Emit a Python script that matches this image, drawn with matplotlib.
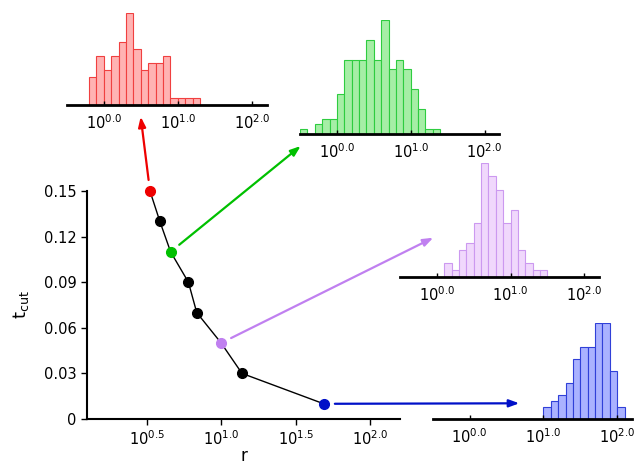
import numpy as np
import matplotlib
matplotlib.use("Agg")
import matplotlib.pyplot as plt

# ---- data ----
r_vals = [3.33, 3.88, 4.58, 6.03, 6.86, 10.0, 13.8, 48.8]
t_cut = [0.15, 0.13, 0.11, 0.09, 0.07, 0.05, 0.03, 0.01]
point_colors = ["#ee0000", "black", "#00c000", "black", "black", "#c080f0", "black", "#0010c8"]

yticks = [0, 0.03, 0.06, 0.09, 0.12, 0.15]
ytick_labels = ["0", "0.03", "0.06", "0.09", "0.12", "0.15"]
xticks_log = [0.5, 1.0, 1.5, 2.0]
xtick_labels = [r"$10^{0.5}$", r"$10^{1.0}$", r"$10^{1.5}$", r"$10^{2.0}$"]

hist_ticks_log = [0.0, 1.0, 2.0]
hist_tick_labels = [r"$10^{0.0}$", r"$10^{1.0}$", r"$10^{2.0}$"]

red_start, red_counts = -0.2, [4, 7, 5, 7, 9, 13, 8, 5, 6, 6, 7, 1, 1, 1, 1]
green_start, green_counts = -0.5, [1, 0, 2, 3, 3, 8, 15, 15, 15, 19, 15, 23, 13, 15, 13, 9, 5, 1, 1]
purple_start, purple_counts = 0.1, [2, 1, 4, 5, 8, 17, 15, 13, 8, 10, 4, 2, 1, 1]
blue_start, blue_counts = 1.0, [2, 3, 4, 6, 10, 12, 12, 16, 16, 8, 2]
bin_width_log = 0.1

W, H = 638, 465
fig = plt.figure(figsize=(W / 100, H / 100), dpi=100)

def px(l, t, r, b):
    return [l / W, 1 - b / H, (r - l) / W, (b - t) / H]

# ---- main axes ----
ax = fig.add_axes(px(87, 191, 400, 419))
ax.plot(r_vals, t_cut, color="black", lw=1, zorder=2)
for x, y, c in zip(r_vals, t_cut, point_colors):
    ax.plot([x], [y], "o", color=c, ms=7, zorder=3, clip_on=False)
ax.set_xscale("log")
ax.set_xlim(10 ** 0.1, 10 ** 2.2)
ax.set_ylim(0, 0.15)
ax.set_xticks([10 ** v for v in xticks_log])
ax.set_xticklabels(xtick_labels)
ax.xaxis.set_minor_locator(matplotlib.ticker.NullLocator())
ax.set_yticks(yticks)
ax.set_yticklabels(ytick_labels)
ax.tick_params(labelsize=10.5, width=1, length=4)
for s in ["top", "right"]:
    ax.spines[s].set_visible(False)
for s in ["left", "bottom"]:
    ax.spines[s].set_linewidth(1.5)
ax.set_xlabel("r", fontsize=12, labelpad=-1)
ax.set_ylabel(r"$\mathregular{t_{cut}}$", fontsize=13, labelpad=9)

# ---- histograms ----
def hist_axes(rect, start, counts, face, edge):
    h = fig.add_axes(rect)
    edges = start + bin_width_log * np.arange(len(counts) + 1)
    lefts = 10 ** edges[:-1]
    widths = 10 ** edges[1:] - lefts
    h.bar(lefts, counts, width=widths, align="edge", color=face, edgecolor=edge, linewidth=0.8)
    h.set_xscale("log")
    h.set_xlim(10 ** -0.5, 10 ** 2.2)
    h.set_ylim(0, max(counts))
    h.set_xticks([10 ** v for v in hist_ticks_log])
    h.set_xticklabels(hist_tick_labels)
    h.xaxis.set_minor_locator(matplotlib.ticker.NullLocator())
    h.set_yticks([])
    for s in ["top", "right", "left"]:
        h.spines[s].set_visible(False)
    h.spines["bottom"].set_linewidth(2)
    h.tick_params(axis="x", direction="in", length=3, width=1, labelsize=10.5, pad=6)
    h.patch.set_alpha(0)
    return h

hist_axes(px(66.7, 13.3, 266.7, 105.3), red_start, red_counts, "#ffb3b3", "#f04040")
hist_axes(px(300, 20, 499.3, 133.7), green_start, green_counts, "#a6eea6", "#2ecc40")
hist_axes(px(400, 162.7, 599, 276.7), purple_start, purple_counts, "#f0d8fc", "#cc99f0")
hist_axes(px(432.7, 322.7, 632, 418.7), blue_start, blue_counts, "#aab2ff", "#3040d8")

# ---- arrows ----
arrow_tips = [(140.7, 116.7), (300.7, 146), (433.3, 237.7), (519.3, 403.3)]
arrow_idx = [0, 2, 5, 7]
for (tx, ty), i in zip(arrow_tips, arrow_idx):
    ax.annotate("", xy=(tx / W, 1 - ty / H), xycoords="figure fraction",
                xytext=(r_vals[i], t_cut[i]), textcoords="data",
                arrowprops=dict(arrowstyle="-|>,head_length=0.6,head_width=0.22",
                                color=point_colors[i], lw=1.6, shrinkA=8, shrinkB=0),
                annotation_clip=False)

fig.savefig("out.png", dpi=100)
